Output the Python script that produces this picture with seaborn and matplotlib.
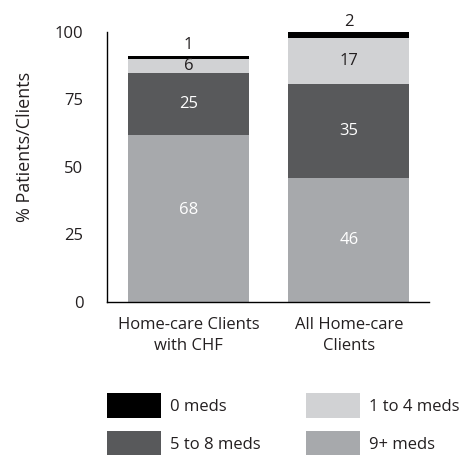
import matplotlib
matplotlib.use("Agg")
import matplotlib.pyplot as plt
import seaborn as sns
import numpy as np
import pandas as pd
from matplotlib.patches import Patch

# Data
categories = ["Home-care Clients\nwith CHF", "All Home-care\nClients"]
series_names = ["9+ meds", "5 to 8 meds", "1 to 4 meds", "0 meds"]
# drawn segment heights
h_9plus = [61.7, 45.9]
h_5to8 = [23.1, 34.7]
h_1to4 = [5.1, 17.2]
h_0 = [1.2, 2.0]
# printed labels
lab_9plus = ["68", "46"]
lab_5to8 = ["25", "35"]
lab_1to4 = ["6", "17"]
lab_0 = ["1", "2"]
yticks = [0, 25, 50, 75, 100]

colors = {"9+ meds": "#a7a9ac", "5 to 8 meds": "#58595b",
          "1 to 4 meds": "#d1d2d4", "0 meds": "#000000"}
text_colors = {"9+ meds": "white", "5 to 8 meds": "white",
               "1 to 4 meds": "#231f20", "0 meds": "#231f20"}

sns.set_style("white")
plt.rcParams["font.family"] = ["Open Sans", "DejaVu Sans"]
txtc = "#231f20"

fig = plt.figure(figsize=(4.66, 4.55), dpi=100)
ax = fig.add_axes([107/466, 1-301.5/455, (429-107)/466, (301.5-31.7)/455])

heights = [h_9plus, h_5to8, h_1to4, h_0]
labels = [lab_9plus, lab_5to8, lab_1to4, lab_0]
cum = np.cumsum(np.array(heights), axis=0)

# draw from top cumulative to bottom so lower layers overlay
for i in range(len(series_names) - 1, -1, -1):
    df = pd.DataFrame({"cat": categories, "val": cum[i]})
    sns.barplot(data=df, x="cat", y="val", color=colors[series_names[i]],
                width=0.756, ax=ax, saturation=1, linewidth=0, errorbar=None)

# value labels
label_nudge = {"9+ meds": [3.0, 0.0]}
for i, name in enumerate(series_names):
    for j in range(len(categories)):
        top = cum[i][j]
        bot = top - heights[i][j]
        if name == "0 meds":
            ax.text(j, top + 1.0, labels[i][j], ha="center", va="bottom",
                    fontsize=12, color=text_colors[name])
        else:
            dy = label_nudge.get(name, [0, 0])[j]
            ax.text(j, (top + bot) / 2 + dy, labels[i][j], ha="center",
                    va="center", fontsize=12, color=text_colors[name])

ax.set_xlim(-0.51, 1.50)
ax.set_ylim(0, 100)
ax.set_yticks(yticks)
ax.set_yticklabels([str(t) for t in yticks], fontsize=12, color=txtc)
ax.tick_params(axis="y", direction="in", length=6, width=1, color="black", pad=17)
ax.tick_params(axis="x", length=0, pad=11, labelsize=12, labelcolor=txtc)
for lbl in ax.get_xticklabels():
    lbl.set_linespacing(1.45)
ax.set_xlabel("")
ax.set_ylabel("")
fig.text(25/466, 1-147/455, "% Patients/Clients", rotation=90, ha="center",
         va="center", fontsize=13, color=txtc)
for s in ["top", "right"]:
    ax.spines[s].set_visible(False)
for s in ["left", "bottom"]:
    ax.spines[s].set_color("black")
    ax.spines[s].set_linewidth(1)

handles = [Patch(facecolor=colors[n], edgecolor="none", label=n)
           for n in ["0 meds", "5 to 8 meds", "1 to 4 meds", "9+ meds"]]
leg = fig.legend(handles=handles, ncol=2, loc="upper left",
                 bbox_to_anchor=(107/466, 1-393/455), frameon=False,
                 fontsize=12, handlelength=3.24, handleheight=1.93,
                 handletextpad=0.55, columnspacing=2.7, labelspacing=0.78,
                 borderpad=0, borderaxespad=0)
for t in leg.get_texts():
    t.set_color(txtc)

fig.savefig("out.png", dpi=100)
